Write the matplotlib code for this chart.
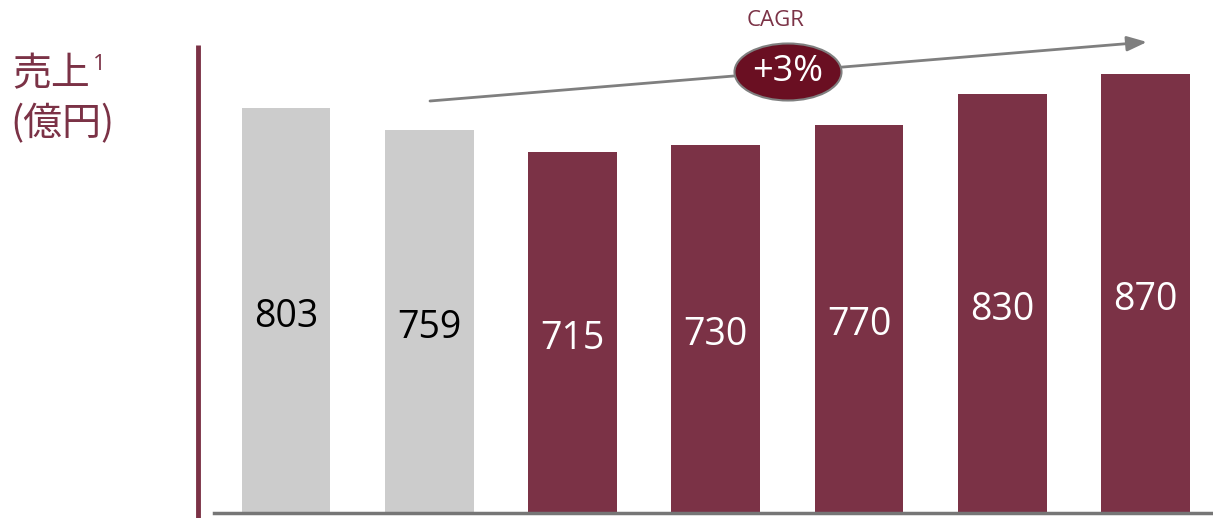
import matplotlib
matplotlib.use("Agg")
import matplotlib.pyplot as plt
from matplotlib.patches import Ellipse

# data
values = [803, 759, 715, 730, 770, 830, 870]
actual_flags = [True, True, False, False, False, False, False]  # gray = actuals
cagr_text = "+3%"

MAROON = "#7B3246"
GRAY = "#CCCCCC"
DARK = "#6A0F22"
LINE_GRAY = "#7F7F7F"

plt.rcParams["font.family"] = ["Open Sans", "Noto Sans CJK JP", "DejaVu Sans"]

W, H = 1213, 518
fig = plt.figure(figsize=(W / 100, H / 100), dpi=100)

# main bar axes: left edge at px 214, baseline at px 513
ax = fig.add_axes([214 / W, (H - 513) / H, 1 - 214 / W, 513 / H])
x = list(range(len(values)))
colors = [GRAY if a else MAROON for a in actual_flags]
bars = ax.bar(x, values, width=0.62, color=colors)
ax.set_xlim(-0.502, 6.47)
ax.set_ylim(0, 1017)
for b, v, a in zip(bars, values, actual_flags):
    ax.text(b.get_x() + b.get_width() / 2, v / 2 - 12, str(v), ha="center", va="center",
            fontsize=27, color="black" if a else "white")
for s in ["top", "right", "left"]:
    ax.spines[s].set_visible(False)
ax.spines["bottom"].set_color("#767676")
ax.spines["bottom"].set_linewidth(2.5)
ax.set_xticks([]); ax.set_yticks([])
ax.patch.set_alpha(0)

# overlay in pixel coordinates for decorations
ov = fig.add_axes([0, 0, 1, 1])
ov.set_xlim(0, W); ov.set_ylim(H, 0)
ov.axis("off"); ov.patch.set_alpha(0)

# vertical maroon axis line
ov.plot([198, 198], [45, H], color=MAROON, lw=3.5, solid_capstyle="butt")

# y label
ov.text(12, 74, "売上", fontsize=28, color=MAROON, va="center", ha="left",
        family=["Noto Sans CJK JP"])
ov.text(93, 64, "1", fontsize=16, color=MAROON, va="center", ha="left")
ov.text(10, 124, "(億円)", fontsize=28, color=MAROON, va="center", ha="left",
        family=["Noto Sans CJK JP"])

# CAGR arrow
ov.annotate("", xy=(1147, 42), xytext=(430, 101),
            arrowprops=dict(arrowstyle="-|>,head_length=1.2,head_width=0.45",
                            color=LINE_GRAY, lw=2, shrinkA=0, shrinkB=0))
ov.add_patch(Ellipse((788, 72), 107, 57, facecolor=DARK, edgecolor=LINE_GRAY, lw=1.5, zorder=3))
ov.text(788, 72, cagr_text, fontsize=26, color="white", ha="center", va="center", zorder=4)
ov.text(776, 21, "CAGR", fontsize=16, color=MAROON, ha="center", va="center")

fig.savefig("out.png", dpi=100)
